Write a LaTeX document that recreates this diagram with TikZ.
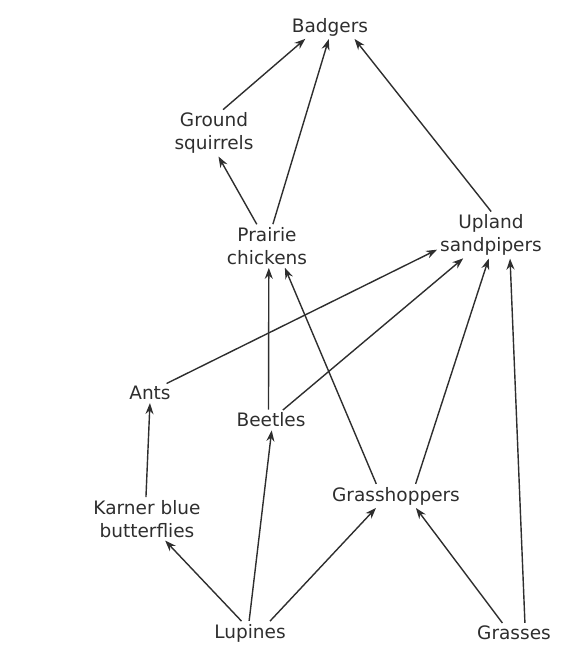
\documentclass[tikz,border=0pt]{standalone}
\usepackage{fontspec}
\setmainfont{DejaVu Sans}
\usetikzlibrary{arrows.meta}
\definecolor{ink}{HTML}{2E2E2E}
\tikzset{
  sp/.style={align=center, text=ink, inner sep=2pt, font=\fontsize{18.5}{23}\selectfont},
  arr/.style={draw=ink, line width=1.4pt, -{Stealth[length=11pt,width=8pt]}, shorten <=1pt, shorten >=1pt}
}
\begin{document}
\begin{tikzpicture}[x=1pt,y=-1pt]
\useasboundingbox (0,0) rectangle (586,662);
\node[sp] (bad) at (330,27) {Badgers};
\node[sp] (gs) at (214,133) {Ground\\squirrels};
\node[sp] (pc) at (267,246) {Prairie\\chickens};
\node[sp] (us) at (491,235) {Upland\\sandpipers};
\node[sp] (ants) at (150,393) {Ants};
\node[sp] (bee) at (271,420) {Beetles};
\node[sp] (kbb) at (147,519) {Karner blue\\butterflies};
\node[sp] (gh) at (396,496) {Grasshoppers};
\node[sp] (lup) at (250,633) {Lupines};
\node[sp] (gra) at (514,633) {Grasses};

\draw[arr] (gs.70) -- (bad.205);
\draw[arr] (pc.75) -- (bad.265);
\draw[arr] (pc.115) -- (gs.-80);
\draw[arr] (us.88) -- (bad.-25);
\draw[arr] (ants.30) -- (us.195);
\draw[arr] (bee.40) -- (us.-140);
\draw[arr] (bee.105) -- (pc.-85);
\draw[arr] (gh.150) -- (pc.-50);
\draw[arr] (gh.30) -- (us.-95);
\draw[arr] (gra.40) -- (us.-50);
\draw[arr] (kbb.93) -- (ants.-90);
\draw[arr] (lup.125) -- (kbb.-50);
\draw[arr] (lup.95) -- (bee.-85);
\draw[arr] (lup.30) -- (gh.-150);
\draw[arr] (gra.140) -- (gh.-30);
\end{tikzpicture}
\end{document}
